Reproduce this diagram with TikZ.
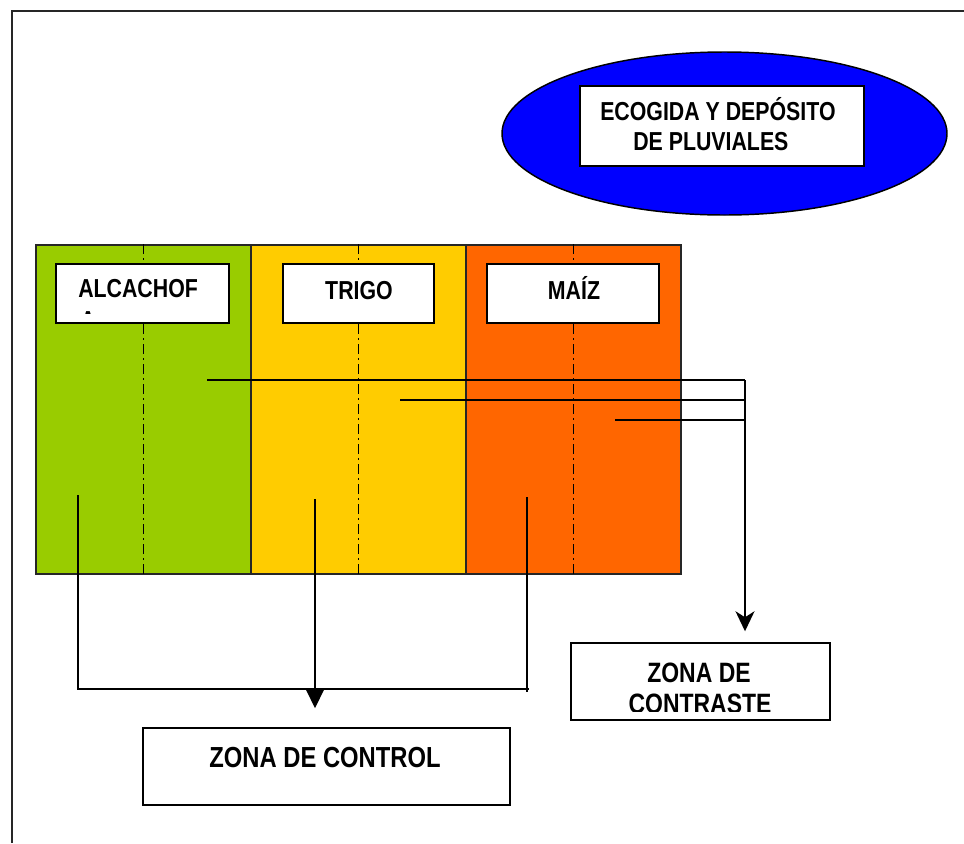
\documentclass[tikz,border=0pt]{standalone}
\usepackage{fontspec}
\newfontfamily\lab{Liberation Sans}[FakeStretch=0.82]
\usetikzlibrary{arrows.meta,shapes.geometric}
\definecolor{cgreen}{HTML}{99CC00}
\definecolor{cyellow}{HTML}{FFCC00}
\definecolor{corange}{HTML}{FF6600}
\definecolor{cblue}{HTML}{0000FF}
\begin{document}
\begin{tikzpicture}[x=0.75pt,y=-0.75pt,
  col/.style={draw=black!85,line width=1pt,inner sep=0pt,minimum height=246.75pt,minimum width=161.25pt},
  lbox/.style={draw,fill=white,line width=1.1pt,inner sep=0pt},
  txt/.style={font=\lab\bfseries\fontsize{19.5pt}{22.5pt}\selectfont,inner sep=0pt},
  bigtxt/.style={font=\lab\bfseries\fontsize{21pt}{22.5pt}\selectfont,inner sep=0pt},
  hugetxt/.style={font=\lab\bfseries\fontsize{21.75pt}{24pt}\selectfont,inner sep=0pt},
  conn/.style={line width=1.4pt},
  axisline/.style={line width=1.3pt,dash pattern=on 7.5pt off 3pt on 1.5pt off 3pt},
]
\useasboundingbox (0,0) rectangle (964,843);
\fill[white] (0,0) rectangle (964,843);
\draw[line width=1.8pt,black!85] (12,843) -- (12,11) -- (964,11);

% rain water collection
\node[ellipse,draw,line width=1.1pt,fill=cblue,minimum width=333.75pt,minimum height=122.25pt,inner sep=0pt] (lluvia) at (724.5,133.5) {};
\node[lbox,minimum width=213pt,minimum height=60pt] (rotulo) at (722,126) {};
\node[txt,anchor=base west] (r1) at (600,120) {ECOGIDA Y DEPÓSITO};
\node[txt,anchor=base west] (r2) at (633,150) {DE PLUVIALES};

% crop columns
\node[col,fill=cgreen] (alc) at (143.5,409.5) {};
\node[col,fill=cyellow] (tri) at (358.5,409.5) {};
\node[col,fill=corange] (mai) at (573.5,409.5) {};
\draw[axisline] (alc.north) -- (alc.south);
\draw[axisline] (tri.north) -- (tri.south);
\draw[axisline] (mai.north) -- (mai.south);

% label boxes
\node[lbox,minimum width=129.75pt,minimum height=44.25pt] (lalc) at (142.5,293.5) {};
\node[lbox,minimum width=113.25pt,minimum height=44.25pt] (ltri) at (358.5,293.5) {};
\node[lbox,minimum width=129pt,minimum height=44.25pt] (lmai) at (573,293.5) {};
\begin{scope}
  \clip (58,266) rectangle (227,313);
  \node[txt,anchor=base west] (ta1) at (78,297) {ALCACHOF};
  \node[txt,anchor=base west] (ta2) at (80,329) {A};
\end{scope}
\node[txt,anchor=base] (tt) at (359,299) {TRIGO};
\node[txt,anchor=base] (tm) at (574,299) {MAÍZ};

% target boxes
\node[lbox,minimum width=194.25pt,minimum height=57.75pt] (cont) at (700.5,681.5) {};
\begin{scope}
  \clip (573,645) rectangle (828,711);
  \node[bigtxt,anchor=base] (tc1) at (699,682) {ZONA DE};
  \node[bigtxt,anchor=base] (tc2) at (700,713) {CONTRASTE};
\end{scope}
\node[lbox,minimum width=275.25pt,minimum height=57.75pt] (ctrl) at (326.5,766.5) {};
\node[hugetxt,anchor=base] (tctrl) at (325,767) {ZONA DE CONTROL};

% connectors to contrast zone
\coordinate (s1) at (207,380);
\coordinate (s2) at (400,400);
\coordinate (s3) at (615,420);
\coordinate (j1) at (745,380);
\coordinate (j2) at (745,400);
\coordinate (j3) at (745,420);
\draw[conn] (s1) -- (j1);
\draw[conn] (s2) -- (j2);
\draw[conn] (s3) -- (j3);
\draw[conn,-{Stealth[width=14.25pt,length=15pt,inset=4.5pt]},shorten >=8.25pt] (j1) -- (j1 |- cont.north);

% connectors to control zone
\coordinate (q1) at (78,495);
\coordinate (q2) at (315,499);
\coordinate (q3) at (527,497);
\coordinate (e1) at (529,689);
\coordinate (e3) at (527,692);
\draw[conn] (q1) |- (e1);
\draw[conn] (q3) -- (e3);
\draw[conn,-{Triangle[width=13.5pt,length=14.25pt]},shorten >=14.25pt] (q2) -- (q2 |- ctrl.north);
\end{tikzpicture}
\end{document}
